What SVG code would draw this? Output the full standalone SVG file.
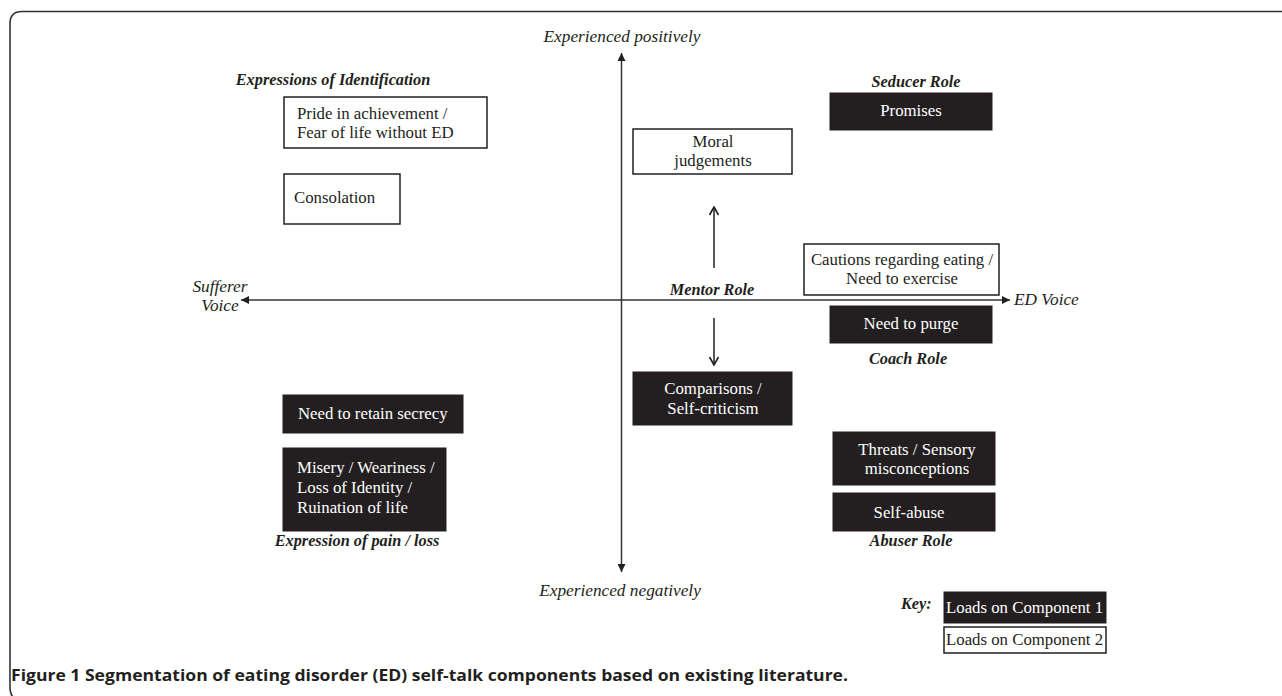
<svg xmlns="http://www.w3.org/2000/svg" width="1282" height="696" viewBox="0 0 1282 696">
<defs>
<style>
.t{font-family:"Liberation Serif","Times New Roman",serif;font-size:16.8px;fill:#231f20}
.w{fill:#ffffff}
.i{font-style:italic;font-size:17.3px}
.bi{font-style:italic;font-weight:bold;font-size:16.3px}
.blk{fill:#231f20;stroke:#231f20;stroke-width:1}
.wht{fill:#ffffff;stroke:#231f20;stroke-width:1.5}
.ax{stroke:#333;stroke-width:1.5;fill:none}
.ar{stroke:#231f20;stroke-width:1.5;fill:none}
</style>
<marker id="tri" viewBox="0 0 10 10" refX="10" refY="5" markerWidth="8" markerHeight="8" markerUnits="userSpaceOnUse" orient="auto">
<path d="M0,0 L10,5 L0,10 z" fill="#231f20"/>
</marker>
<marker id="chev" viewBox="0 0 10 10" refX="9" refY="5" markerWidth="10" markerHeight="12" markerUnits="userSpaceOnUse" orient="auto">
<path d="M1,0.5 L9,5 L1,9.5" fill="none" stroke="#231f20" stroke-width="1.6"/>
</marker>
</defs>
<rect width="1282" height="696" fill="#ffffff"/>
<path d="M1290,11.5 H22 Q10,11.5 10,23.5 V688 Q10,696 16,700" fill="none" stroke="#333" stroke-width="1.6"/>

<g id="connectors">
<line class="ax" x1="621.5" y1="300" x2="621.5" y2="53" marker-end="url(#tri)"/>
<line class="ax" x1="621.5" y1="300" x2="621.5" y2="572" marker-end="url(#tri)"/>
<line class="ax" x1="621.5" y1="300" x2="241" y2="300" marker-end="url(#tri)"/>
<line class="ax" x1="621.5" y1="300" x2="1010" y2="300" marker-end="url(#tri)"/>
<line class="ar" x1="714" y1="268" x2="714" y2="207" marker-end="url(#chev)"/>
<line class="ar" x1="714" y1="318" x2="714" y2="365" marker-end="url(#chev)"/>
</g>

<g id="axis-labels">
<text class="t i" x="622" y="42" text-anchor="middle">Experienced positively</text>
<text class="t i" x="620" y="596" text-anchor="middle">Experienced negatively</text>
<text class="t i" x="220" y="292" text-anchor="middle">Sufferer</text>
<text class="t i" x="220" y="311" text-anchor="middle">Voice</text>
<text class="t i" x="1014" y="305">ED Voice</text>
</g>

<g id="role-labels">
<text class="t bi" x="333" y="85" text-anchor="middle">Expressions of Identification</text>
<text class="t bi" x="916" y="87" text-anchor="middle">Seducer Role</text>
<text class="t bi" x="712" y="295" text-anchor="middle">Mentor Role</text>
<text class="t bi" x="908" y="364" text-anchor="middle">Coach Role</text>
<text class="t bi" x="911" y="546" text-anchor="middle">Abuser Role</text>
<text class="t bi" x="357" y="546" text-anchor="middle">Expression of pain / loss</text>
</g>

<g id="pride">
<rect class="wht" x="284" y="97" width="203" height="51"/>
<text class="t" x="297" y="119">Pride in achievement /</text>
<text class="t" x="297" y="138">Fear of life without ED</text>
</g>
<g id="consolation">
<rect class="wht" x="284" y="174" width="116" height="50"/>
<text class="t" x="294" y="203">Consolation</text>
</g>
<g id="promises">
<rect class="blk" x="830" y="93" width="162" height="37"/>
<text class="t w" x="911" y="116" text-anchor="middle">Promises</text>
</g>
<g id="moral">
<rect class="wht" x="633" y="129" width="159" height="45"/>
<text class="t" x="713" y="147" text-anchor="middle">Moral</text>
<text class="t" x="713" y="166" text-anchor="middle">judgements</text>
</g>
<g id="cautions">
<rect class="wht" x="804" y="244" width="195" height="51"/>
<text class="t" x="902" y="265" text-anchor="middle">Cautions regarding eating /</text>
<text class="t" x="902" y="284" text-anchor="middle">Need to exercise</text>
</g>
<g id="purge">
<rect class="blk" x="830" y="306" width="162" height="37"/>
<text class="t w" x="911" y="329" text-anchor="middle">Need to purge</text>
</g>
<g id="secrecy">
<rect class="blk" x="283" y="395" width="180" height="38"/>
<text class="t w" x="298" y="419">Need to retain secrecy</text>
</g>
<g id="comparisons">
<rect class="blk" x="633" y="372" width="159" height="53"/>
<text class="t w" x="713" y="394" text-anchor="middle">Comparisons /</text>
<text class="t w" x="713" y="414" text-anchor="middle">Self-criticism</text>
</g>
<g id="threats">
<rect class="blk" x="833" y="432" width="162" height="53"/>
<text class="t w" x="917" y="455" text-anchor="middle">Threats / Sensory</text>
<text class="t w" x="917" y="474" text-anchor="middle">misconceptions</text>
</g>
<g id="selfabuse">
<rect class="blk" x="833" y="493" width="162" height="38"/>
<text class="t w" x="909" y="518" text-anchor="middle">Self-abuse</text>
</g>
<g id="misery">
<rect class="blk" x="283" y="448" width="163" height="83"/>
<text class="t w" x="297" y="473">Misery / Weariness /</text>
<text class="t w" x="297" y="493">Loss of Identity /</text>
<text class="t w" x="297" y="513">Ruination of life</text>
</g>
<g id="key">
<text class="t bi" x="901" y="609">Key:</text>
<rect class="blk" x="944" y="592" width="162" height="31"/>
<text class="t w" x="946" y="613">Loads on Component 1</text>
<rect class="wht" x="944" y="627" width="162" height="26"/>
<text class="t" x="946" y="645">Loads on Component 2</text>
</g>
<text x="11" y="681" font-family="'Open Sans','Liberation Sans',sans-serif" font-weight="bold" font-size="15.5" fill="#231f20" textLength="837" lengthAdjust="spacingAndGlyphs">Figure 1 Segmentation of eating disorder (ED) self-talk components based on existing literature.</text>
</svg>
